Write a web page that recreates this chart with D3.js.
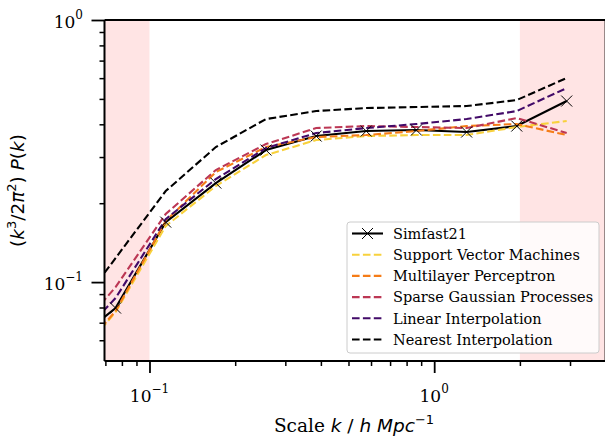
<!DOCTYPE html>
<html>
<head>
<meta charset="utf-8">
<script src="https://cdn.jsdelivr.net/npm/d3@7"></script>
<style>
  html, body { margin: 0; padding: 0; background: #fff; }
  svg { display: block; }
</style>
</head>
<body>
<svg id="chart" width="605" height="439"></svg>
<script>
// Wavenumbers k (h/Mpc); the first sits just below the visible range
const kValues = [0.0507, 0.076, 0.114, 0.171, 0.2565, 0.385, 0.577, 0.866, 1.30, 1.95, 2.92];

// Dimensionless power (k^3/2pi^2) P(k) for each model
const simfast21 = [0.0560, 0.0796, 0.1694, 0.2387, 0.3190, 0.3608, 0.3770, 0.3803, 0.3737, 0.3939, 0.4907];
const svmValues = [0.0461, 0.0768, 0.1636, 0.2325, 0.3053, 0.3483, 0.3608, 0.3640, 0.3640, 0.3905, 0.4116];
const mlpValues = [0.0466, 0.0775, 0.1709, 0.2630, 0.3275, 0.3576, 0.3640, 0.3770, 0.3939, 0.4010, 0.3640];
const sgpValues = [0.0575, 0.0957, 0.1818, 0.2677, 0.3362, 0.3870, 0.3939, 0.3905, 0.3870, 0.4227, 0.3705];
const linearValues = [0.0545, 0.0869, 0.1739, 0.2472, 0.3247, 0.3705, 0.3870, 0.4010, 0.4189, 0.4494, 0.5500];
const nearestValues = [0.0685, 0.1235, 0.2225, 0.3275, 0.4189, 0.4494, 0.4614, 0.4655, 0.4696, 0.4950, 0.6008];

const seriesNames = ["Simfast21", "Support Vector Machines", "Multilayer Perceptron",
                     "Sparse Gaussian Processes", "Linear Interpolation", "Nearest Interpolation"];
const seriesColors = ["#000000", "#f8d13c", "#f57c17", "#bc3754", "#420a68", "#000000"];

// Shaded k ranges outside the trusted interval
const shadedRanges = [[0.01, 0.1], [2.0, 10]];

// Axis extents and tick labels
const xDomain = [0.0695, 4.0];
const yDomain = [0.05, 1.0];
const xMajorTicks = [0.1, 1];
const xMajorExponents = ["\u22121", "0"];
const xMinorTicks = [0.07, 0.08, 0.09, 0.2, 0.3, 0.4, 0.5, 0.6, 0.7, 0.8, 0.9, 2, 3];
const yMajorTicks = [0.1, 1];
const yMajorExponents = ["\u22121", "0"];
const yMinorTicks = [0.06, 0.07, 0.08, 0.09, 0.2, 0.3, 0.4, 0.5, 0.6, 0.7, 0.8, 0.9];

const seriesValues = [simfast21, svmValues, mlpValues, sgpValues, linearValues, nearestValues];

const svg = d3.select("#chart");
const plot = { left: 104.5, right: 605.6, top: 20, bottom: 361 };

const x = d3.scaleLog().domain(xDomain).range([plot.left, plot.right]);
const y = d3.scaleLog().domain(yDomain).range([plot.bottom, plot.top]);

svg.append("defs").append("clipPath").attr("id", "plotClip")
  .append("rect")
  .attr("x", plot.left).attr("y", plot.top)
  .attr("width", plot.right - plot.left).attr("height", plot.bottom - plot.top);

const inner = svg.append("g").attr("clip-path", "url(#plotClip)");

// shaded bands
inner.selectAll("rect.band").data(shadedRanges).enter().append("rect")
  .attr("class", "band")
  .attr("x", d => x(d[0]))
  .attr("width", d => x(d[1]) - x(d[0]))
  .attr("y", plot.top).attr("height", plot.bottom - plot.top)
  .attr("fill", "#ffe4e4");

const line = d3.line().x(d => x(d[0])).y(d => y(d[1]));

const series = seriesNames.map((name, i) => ({
  name,
  color: seriesColors[i],
  dashed: i > 0,
  points: kValues.map((k, j) => [k, seriesValues[i][j]])
}));

// draw reference first, then the emulators on top
series.forEach((s) => {
  inner.append("path")
    .datum(s.points)
    .attr("d", line)
    .attr("fill", "none")
    .attr("stroke", s.color)
    .attr("stroke-width", 2.1)
    .attr("stroke-dasharray", s.dashed ? "7.6,3.3" : null);
});

// cross markers on the Simfast21 curve
function cross(g, cx, cy, r) {
  g.append("path")
    .attr("d", `M${cx - r},${cy - r}L${cx + r},${cy + r}M${cx - r},${cy + r}L${cx + r},${cy - r}`)
    .attr("stroke", "#000").attr("stroke-width", 1).attr("fill", "none");
}
series[0].points.forEach(p => cross(inner, x(p[0]), y(p[1]), 5.5));

// axes
const tickStroke = 1.8;
const xAxisMajor = d3.axisBottom(x).tickValues(xMajorTicks).tickSize(12).tickFormat(() => "");
const xAxisMinor = d3.axisBottom(x).tickValues(xMinorTicks).tickSize(5).tickFormat(() => "");
const yAxisMajor = d3.axisLeft(y).tickValues(yMajorTicks).tickSize(13).tickFormat(() => "");
const yAxisMinor = d3.axisLeft(y).tickValues(yMinorTicks).tickSize(5).tickFormat(() => "");

function styleAxis(g, w) {
  g.select(".domain").remove();
  g.selectAll(".tick line").attr("stroke", "#000").attr("stroke-width", w);
}

svg.append("g").attr("transform", `translate(0,${plot.bottom})`).call(xAxisMinor).call(g => styleAxis(g, 1.5));
svg.append("g").attr("transform", `translate(0,${plot.bottom})`).call(xAxisMajor).call(g => styleAxis(g, tickStroke));
svg.append("g").attr("transform", `translate(${plot.left},0)`).call(yAxisMinor).call(g => styleAxis(g, 1.5));
svg.append("g").attr("transform", `translate(${plot.left},0)`).call(yAxisMajor).call(g => styleAxis(g, tickStroke));

// spines
const spines = svg.append("g").attr("stroke", "#000").attr("stroke-width", 2).attr("fill", "none");
spines.append("line").attr("x1", plot.left).attr("x2", plot.right).attr("y1", plot.bottom).attr("y2", plot.bottom);
spines.append("line").attr("x1", plot.left).attr("x2", plot.right).attr("y1", plot.top).attr("y2", plot.top);
spines.append("line").attr("x1", plot.left).attr("x2", plot.left).attr("y1", plot.top).attr("y2", plot.bottom);
spines.append("line").attr("x1", plot.right).attr("x2", plot.right).attr("y1", plot.top).attr("y2", plot.bottom);

// tick labels as 10^n
const serif = "'DejaVu Serif', serif";
const sans = "'DejaVu Sans', sans-serif";

function powerLabel(g, px, py, exp, anchor) {
  const t = g.append("text")
    .attr("x", px).attr("y", py)
    .attr("text-anchor", anchor)
    .attr("font-family", serif)
    .attr("font-size", 17)
    .attr("fill", "#000");
  t.append("tspan").text("10");
  t.append("tspan").attr("dy", -9).attr("font-size", 12).text(exp);
}

xMajorTicks.forEach((v, i) => powerLabel(svg, x(v), 402, xMajorExponents[i], "middle"));
yMajorTicks.forEach((v, i) => powerLabel(svg, 83, y(v) + 8, yMajorExponents[i], "end"));

// x-axis title
const xTitle = svg.append("text")
  .attr("x", 354).attr("y", 432)
  .attr("text-anchor", "middle")
  .attr("font-size", 18.5)
  .attr("fill", "#000");
xTitle.append("tspan").attr("font-family", serif).text("Scale ");
xTitle.append("tspan").attr("font-family", sans).attr("font-style", "italic").text("k");
xTitle.append("tspan").attr("font-family", sans).text(" / ");
xTitle.append("tspan").attr("font-family", sans).attr("font-style", "italic").text("h Mpc");
xTitle.append("tspan").attr("font-family", sans).attr("font-size", 13).attr("dy", -8).text("\u22121");

// y-axis title
const yTitle = svg.append("text")
  .attr("transform", `translate(24,${(plot.top + plot.bottom) / 2}) rotate(-90)`)
  .attr("text-anchor", "middle")
  .attr("font-family", sans)
  .attr("font-size", 18.5)
  .attr("fill", "#000");
yTitle.append("tspan").text("(");
yTitle.append("tspan").attr("font-style", "italic").text("k");
yTitle.append("tspan").attr("font-size", 13).attr("dy", -8).text("3");
yTitle.append("tspan").attr("dy", 8).text("/2");
yTitle.append("tspan").attr("font-style", "italic").text("\u03c0");
yTitle.append("tspan").attr("font-size", 13).attr("dy", -8).text("2");
yTitle.append("tspan").attr("dy", 8).text(") ");
yTitle.append("tspan").attr("font-style", "italic").text("P");
yTitle.append("tspan").text("(");
yTitle.append("tspan").attr("font-style", "italic").text("k");
yTitle.append("tspan").text(")");

// legend
const legend = svg.append("g");
legend.append("rect")
  .attr("x", 347).attr("y", 222).attr("width", 252).attr("height", 131)
  .attr("rx", 3)
  .attr("fill", "#fff").attr("fill-opacity", 0.8)
  .attr("stroke", "#cccccc").attr("stroke-width", 1);

series.forEach((s, i) => {
  const ry = 233.5 + i * 21.2;
  legend.append("line")
    .attr("x1", 352).attr("x2", 383).attr("y1", ry).attr("y2", ry)
    .attr("stroke", s.color).attr("stroke-width", 2.1)
    .attr("stroke-dasharray", s.dashed ? "7.6,3.3" : null);
  if (i === 0) cross(legend, 367.5, ry, 5.5);
  legend.append("text")
    .attr("x", 393).attr("y", ry).attr("dy", "0.36em")
    .attr("font-family", serif).attr("font-size", 14.5)
    .attr("fill", "#000")
    .text(s.name);
});
</script>
</body>
</html>
